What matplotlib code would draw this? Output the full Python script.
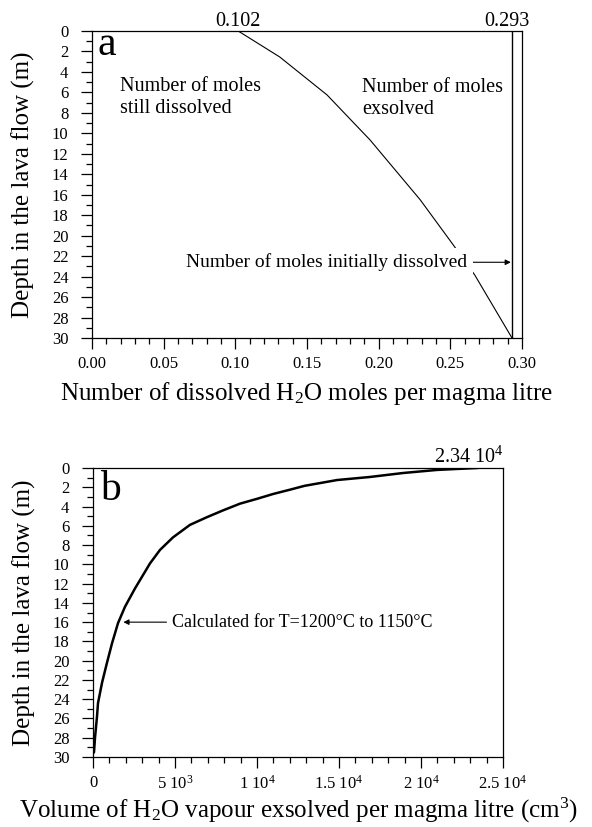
import numpy as np
from matplotlib import pyplot as plt
from matplotlib.ticker import MultipleLocator, FormatStrFormatter, FixedLocator, FixedFormatter

plt.rcParams['font.family'] = ['Liberation Serif', 'DejaVu Serif']
plt.rcParams['mathtext.fontset'] = 'custom'
plt.rcParams['mathtext.rm'] = 'Liberation Serif'
plt.rcParams['mathtext.it'] = 'Liberation Serif:italic'

# panel a: dissolved moles vs depth
depth_a = [0, 2.54, 6.25, 10.65, 16.5, 20.9, 23.84, 30]
moles_a = [0.102, 0.131, 0.164, 0.194, 0.229, 0.252, 0.267, 0.293]
moles_initial = 0.293

# panel b: vapour volume vs depth
depth_b = [29.6, 29.5, 28.0, 25.8, 24.4, 22.3, 20.2, 18.2, 16.1, 14.4, 12.5,
           9.9, 8.5, 7.2, 5.9, 5.1, 4.4, 3.7, 3.2, 2.7, 2.25, 1.85, 1.25,
           0.93, 0.52, 0.2, 0]
volume_b = [0, 61, 122, 244, 305, 549, 854, 1159, 1525, 1951, 2561,
            3476, 4086, 4878, 5915, 6952, 7927, 8964, 10000, 10976,
            12012, 12900, 14879, 16891, 18903, 20976, 23400]
volume_max = 23400

b_ticks = [0, 5000, 10000, 15000, 20000, 25000]
b_labels = ['0', '5 10$^3$', '1 10$^4$', '1.5 10$^4$', '2 10$^4$', '2.5 10$^4$']


def style_axes(ax, tick_len=8):
    ax.set_ylim(30, 0)
    ax.yaxis.set_major_locator(MultipleLocator(2))
    ax.yaxis.set_minor_locator(MultipleLocator(1))
    ax.tick_params(which='both', direction='out', top=False, right=False,
                   labelsize=12, width=0.9)
    ax.tick_params(axis='y', which='major', length=tick_len, pad=9)
    ax.tick_params(axis='x', which='major', length=tick_len, pad=5)
    ax.tick_params(which='minor', length=tick_len / 2)
    for s in ax.spines.values():
        s.set_linewidth(0.9)
    ax.set_ylabel('Depth in the lava flow (m)', fontsize=18, labelpad=12)


fig = plt.figure(figsize=(5.92, 8.27), dpi=100)

ax1 = fig.add_axes([0.1554, 0.5913, 0.7264, 0.3712])
ax1.plot(moles_a, depth_a, c='black', lw=0.8)
ax1.axvline(moles_initial, c='black', lw=1.0)
ax1.set_xlim(0, 0.30)
ax1.xaxis.set_major_locator(MultipleLocator(0.05))
ax1.xaxis.set_minor_locator(MultipleLocator(0.01))
ax1.xaxis.set_major_formatter(FormatStrFormatter('%.2f'))
style_axes(ax1, tick_len=8)
ax1.set_xlabel('Number of dissolved H$_2$O moles per magma litre', fontsize=18, labelpad=6)
ax1.text(0.004, 2.35, 'a', fontsize=30, va='baseline')
ax1.text(0.0195, 6.5, 'Number of moles\nstill dissolved', fontsize=14.5, va='center',
         linespacing=1.25)
ax1.text(0.1884, 6.6, 'Number of moles\nexsolved', fontsize=14.5, va='center',
         linespacing=1.25)
ax1.annotate('Number of moles initially dissolved', xy=(moles_initial - 0.0008, 22.6),
             xytext=(0.2617, 22.6), fontsize=14, ha='right', va='center',
             bbox=dict(boxstyle='square,pad=0.3', fc='white', ec='none'),
             arrowprops=dict(arrowstyle='-|>', lw=0.8, color='black',
                             mutation_scale=8, shrinkA=0, shrinkB=0))
ax1.text(moles_a[0], -0.5, '%.3f' % moles_a[0], fontsize=14.5, ha='center', va='baseline')
ax1.text(moles_initial - 0.0035, -0.5, '%.3f' % moles_initial, fontsize=14.5,
         ha='center', va='baseline')

ax2 = fig.add_axes([0.1571, 0.0846, 0.6926, 0.3495])
ax2.plot(volume_b, depth_b, c='black', lw=1.8)
ax2.set_xlim(0, 25000)
ax2.xaxis.set_major_locator(FixedLocator(b_ticks))
ax2.xaxis.set_major_formatter(FixedFormatter(b_labels))
ax2.xaxis.set_minor_locator(MultipleLocator(1000))
style_axes(ax2, tick_len=8)
ax2.set_xlabel('Volume of H$_2$O vapour exsolved per magma litre (cm$^3$)', fontsize=18,
               labelpad=2)
ax2.text(430, 3.3, 'b', fontsize=30, va='baseline')
ax2.annotate('Calculated for T=1200\u00b0C to 1150\u00b0C', xy=(1850, 16.0),
             xytext=(4820, 16.0), fontsize=13, ha='left', va='center',
             arrowprops=dict(arrowstyle='-|>', lw=0.8, color='black',
                             mutation_scale=8, shrinkA=2, shrinkB=0))
ax2.text(25000, -0.52, '%.2f 10$^4$' % (volume_max / 1e4), fontsize=14.5, ha='right',
         va='baseline')

fig.savefig('out.png', dpi=100)
